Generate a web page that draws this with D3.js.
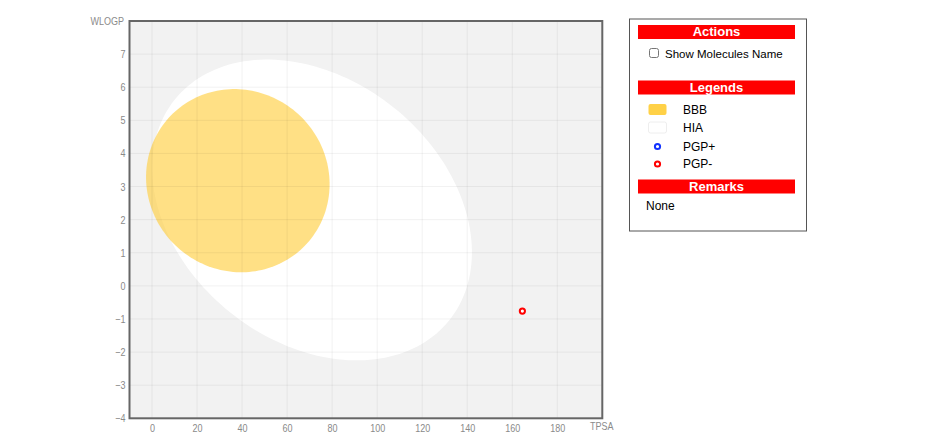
<!DOCTYPE html>
<html><head><meta charset="utf-8">
<script src="https://cdn.jsdelivr.net/npm/d3@7"></script>
<style>body{margin:0;background:#fff;overflow:hidden}</style>
</head><body><svg id="c" width="940" height="441"></svg>
<script>
// ---- data ----
const xDomain = [-10, 200];
const yDomain = [-4, 8];
const xTicks = [0, 20, 40, 60, 80, 100, 120, 140, 160, 180];
const yTicks = [-4, -3, -2, -1, 0, 1, 2, 3, 4, 5, 6, 7];
const xLabel = "TPSA";
const yLabel = "WLOGP";
// egg regions: centre and two conjugate semi-diameters (TPSA, WLOGP units)
const regionNames = ["HIA", "BBB"];
const regionCenters = [[71.051, 2.292], [38.117, 3.177]];
const regionAxisU = [[61.0, -3.33], [30.8, -1.89]];
const regionAxisV = [[-36.4, -3.09], [-26.7, -2.02]];
// molecules
const moleculeTPSA = [164.5];
const moleculeWLOGP = [-0.76];
const moleculePGP = ["PGP-"];
// panel
const legendLabels = ["BBB", "HIA", "PGP+", "PGP-"];
const actionLabel = "Show Molecules Name";
const remarksText = "None";

// ---- drawing ----
const svg = d3.select("#c");
const x = d3.scaleLinear().domain(xDomain).range([129.5, 602.3]);
const y = d3.scaleLinear().domain(yDomain).range([418.3, 21]);
const axisFont = "'Liberation Sans',Arial,Helvetica,sans-serif";
const panelFont = "'Liberation Sans',Arial,Helvetica,sans-serif";
const sx = 0.82; // narrow axis lettering

svg.append("rect").attr("x", x(xDomain[0])).attr("y", y(yDomain[1]))
  .attr("width", x(xDomain[1]) - x(xDomain[0])).attr("height", y(yDomain[0]) - y(yDomain[1]))
  .attr("fill", "#f2f2f2");

const fills = {HIA: {c: "#ffffff", o: 1}, BBB: {c: "#ffcc33", o: 0.6}};
const line = d3.line().x(d => x(d[0])).y(d => y(d[1])).curve(d3.curveLinearClosed);
regionNames.forEach((n, i) => {
  const c = regionCenters[i], u = regionAxisU[i], v = regionAxisV[i];
  const pts = d3.range(0, 360, 2).map(a => {
    const t = a * Math.PI / 180;
    return [c[0] + Math.cos(t) * u[0] + Math.sin(t) * v[0], c[1] + Math.cos(t) * u[1] + Math.sin(t) * v[1]];
  });
  svg.append("path").attr("d", line(pts)).attr("fill", fills[n].c).attr("fill-opacity", fills[n].o);
});

// grid
const grid = svg.append("g").attr("stroke", "rgba(0,0,0,0.055)").attr("stroke-width", 1);
xTicks.forEach(t => grid.append("line").attr("x1", x(t)).attr("x2", x(t)).attr("y1", y(yDomain[0])).attr("y2", y(yDomain[1])));
yTicks.forEach(t => grid.append("line").attr("y1", y(t)).attr("y2", y(t)).attr("x1", x(xDomain[0])).attr("x2", x(xDomain[1])));

// axes (labels only)
const xAxis = d3.axisBottom(x).tickValues(xTicks).tickSize(0).tickPadding(6);
const gx = svg.append("g").attr("transform", `translate(0,${y(yDomain[0])})`).call(xAxis);
const yAxis = d3.axisLeft(y).tickValues(yTicks).tickSize(0).tickPadding(4);
const gy = svg.append("g").attr("transform", `translate(${x(xDomain[0])},0)`).call(yAxis);
[gx, gy].forEach(g => {
  g.select(".domain").remove();
  g.selectAll("text").attr("fill", "#8a8a8a").style("font-family", axisFont).style("font-size", "11px");
});
gx.selectAll("text").attr("transform", `scale(${sx},1)`);
gy.selectAll("text").attr("x", -4 / sx).attr("transform", `scale(${sx},1)`);
svg.append("text").attr("transform", `translate(124,24.5) scale(${sx},1)`).attr("text-anchor", "end")
  .attr("fill", "#8a8a8a").style("font-family", axisFont).style("font-size", "11px").text(yLabel);
svg.append("text").attr("transform", `translate(590,429.5) scale(${sx},1)`)
  .attr("fill", "#8a8a8a").style("font-family", axisFont).style("font-size", "11px").text(xLabel);

// molecules
const pgpColor = {"PGP+": "#1133ff", "PGP-": "#ff0000"};
svg.selectAll("circle.mol").data(moleculeTPSA).join("circle").attr("class", "mol")
  .attr("cx", d => x(d)).attr("cy", (d, i) => y(moleculeWLOGP[i])).attr("r", 2.6)
  .attr("fill", "#fff").attr("stroke", (d, i) => pgpColor[moleculePGP[i]]).attr("stroke-width", 2);

// frame
svg.append("rect").attr("x", x(xDomain[0])).attr("y", y(yDomain[1]))
  .attr("width", x(xDomain[1]) - x(xDomain[0])).attr("height", y(yDomain[0]) - y(yDomain[1]))
  .attr("fill", "none").attr("stroke", "#666").attr("stroke-width", 2);

// ---- panel ----
const p = svg.append("g").style("font-family", panelFont);
p.append("rect").attr("x", 629.5).attr("y", 19).attr("width", 177).attr("height", 212)
  .attr("fill", "#fff").attr("stroke", "#555").attr("stroke-width", 1);
function header(yTop, txt) {
  p.append("rect").attr("x", 638).attr("y", yTop).attr("width", 157).attr("height", 14).attr("fill", "#ff0000");
  p.append("text").attr("x", 716.5).attr("y", yTop + 11.3).attr("text-anchor", "middle")
    .attr("fill", "#fff").style("font-weight", "bold").style("font-size", "13px").text(txt);
}
header(25, "Actions");
p.append("rect").attr("x", 649.5).attr("y", 48.5).attr("width", 9).attr("height", 9).attr("rx", 2)
  .attr("fill", "#fff").attr("stroke", "#767676").attr("stroke-width", 1);
p.append("text").attr("x", 665).attr("y", 58).attr("fill", "#000").style("font-size", "11.5px").text(actionLabel);

header(80.5, "Legends");
const rowY = [109.5, 127.5, 146.5, 164];
legendLabels.forEach((l, i) => {
  const cy = rowY[i];
  if (l === "BBB") p.append("rect").attr("x", 648.5).attr("y", cy - 5.5).attr("width", 18).attr("height", 11).attr("rx", 2).attr("fill", "#ffd147");
  else if (l === "HIA") p.append("rect").attr("x", 648.5).attr("y", cy - 5.5).attr("width", 18).attr("height", 11).attr("rx", 2).attr("fill", "#fff").attr("stroke", "#eee");
  else p.append("circle").attr("cx", 657.5).attr("cy", cy).attr("r", 2.6).attr("fill", "#fff").attr("stroke", pgpColor[l]).attr("stroke-width", 2);
  p.append("text").attr("x", 683).attr("y", cy + 4.2).attr("fill", "#000").style("font-size", "12px").text(l);
});

header(179.5, "Remarks");
p.append("text").attr("x", 646).attr("y", 210).attr("fill", "#000").style("font-size", "12px").text(remarksText);
</script></body></html>
